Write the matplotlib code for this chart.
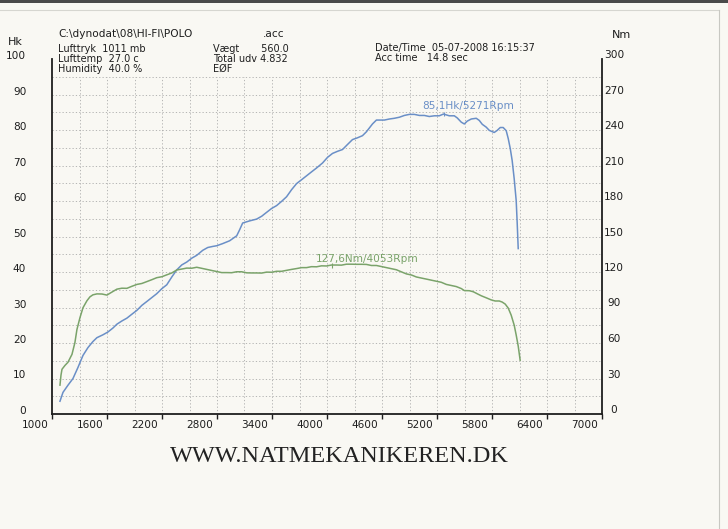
import matplotlib.pyplot as plt
from matplotlib.lines import Line2D
from matplotlib.patches import Rectangle
from matplotlib.transforms import ScaledTranslation

W, H = 728, 529

# effekt (Hk) aflæst fra kurven
rpm_hk = [1087, 1120, 1174, 1229, 1283, 1338, 1392, 1446, 1490, 1555,
          1610, 1664, 1708, 1762, 1817, 1871, 1926, 1980, 2035, 2089,
          2143, 2198, 2252, 2307, 2361, 2416, 2470, 2525, 2579, 2644,
          2699, 2753, 2797, 2862, 2938, 3015, 3047, 3080, 3156, 3232,
          3287, 3341, 3396, 3450, 3505, 3559, 3614, 3668, 3723, 3777,
          3831, 3886, 3951, 4006, 4060, 4115, 4169, 4223, 4278, 4332,
          4387, 4430, 4463, 4496, 4539, 4572, 4626, 4681, 4735, 4790,
          4844, 4899, 4953, 5008, 5062, 5116, 5171, 5225, 5271, 5334,
          5389, 5421, 5465, 5498, 5530, 5574, 5628, 5661, 5694, 5737,
          5770, 5824, 5857, 5890, 5922, 5955, 5977, 5999, 6020, 6042,
          6064, 6075, 6086]
hk = [3.6, 6.1, 8.1, 10.0, 13.1, 16.5, 18.7, 20.4, 21.5, 22.3,
      23.1, 24.2, 25.3, 26.2, 27.0, 28.1, 29.2, 30.6, 31.7, 32.8,
      33.9, 35.3, 36.4, 38.6, 40.6, 42.0, 42.8, 43.9, 44.7, 46.1,
      46.9, 47.2, 47.4, 48.0, 48.8, 50.2, 51.9, 53.8, 54.4, 54.9,
      55.7, 56.8, 57.9, 58.7, 59.9, 61.2, 63.2, 64.9, 66.0, 67.1,
      68.2, 69.3, 70.7, 72.3, 73.4, 74.0, 74.5, 75.9, 77.3, 77.8,
      78.4, 79.5, 80.6, 81.7, 82.8, 82.8, 82.8, 83.1, 83.3, 83.6,
      84.1, 84.4, 84.4, 84.1, 84.1, 83.8, 84.0, 84.0, 84.5, 84.0,
      84.0, 83.4, 82.2, 81.7, 82.5, 83.1, 83.3, 82.7, 81.6, 80.8,
      79.9, 79.3, 79.9, 80.7, 80.7, 79.8, 77.6, 74.8, 71.4, 66.3,
      60.1, 53.7, 46.6]

# moment (Nm)
rpm_nm = [1087, 1098, 1109, 1142, 1174, 1218, 1250, 1272, 1305, 1338,
          1381, 1414, 1446, 1490, 1545, 1599, 1653, 1708, 1762, 1817,
          1871, 1926, 1980, 2035, 2089, 2143, 2198, 2252, 2307, 2361,
          2416, 2470, 2525, 2579, 2634, 2688, 2742, 2797, 2851, 2906,
          2960, 3015, 3069, 3124, 3178, 3232, 3287, 3341, 3396, 3450,
          3505, 3559, 3614, 3668, 3723, 3777, 3831, 3886, 3940, 3995,
          4049, 4104, 4158, 4213, 4267, 4321, 4376, 4430, 4485, 4539,
          4594, 4648, 4703, 4757, 4812, 4866, 4920, 4975, 5029, 5084,
          5138, 5193, 5247, 5302, 5356, 5410, 5465, 5498, 5552, 5596,
          5639, 5683, 5737, 5792, 5835, 5879, 5911, 5944, 5977, 6009,
          6042, 6064, 6086, 6107]
nm = [24.4, 32.8, 37.8, 41.1, 43.7, 50.4, 60.4, 71.4, 81.4, 89.8,
      95.7, 99.0, 100.7, 101.5, 101.4, 100.5, 103.0, 105.5, 106.3, 106.2,
      107.9, 109.5, 110.3, 111.9, 113.5, 115.2, 116.0, 117.6, 119.2, 121.7,
      122.5, 123.3, 123.2, 124.0, 123.1, 122.2, 121.3, 120.4, 119.5, 119.5,
      119.4, 120.2, 120.2, 119.3, 119.2, 119.2, 119.1, 119.9, 119.8, 120.6,
      120.6, 121.4, 122.2, 122.9, 123.7, 123.7, 124.5, 124.4, 125.2, 125.1,
      125.9, 125.9, 125.8, 126.6, 126.6, 126.5, 126.5, 126.4, 125.5, 125.5,
      124.6, 123.7, 122.8, 121.9, 120.1, 118.4, 117.5, 115.8, 114.9, 114.0,
      113.1, 112.2, 111.3, 109.5, 108.6, 107.7, 106.0, 104.3, 104.2, 103.3,
      101.6, 99.9, 98.2, 96.4, 95.5, 95.5, 94.6, 92.9, 89.5, 83.6,
      75.1, 66.7, 57.4, 45.5]

peak_hk_rpm, peak_hk = 5271, 85.1
peak_nm_rpm, peak_nm = 4053, 127.6

x_ticks = list(range(1000, 7001, 600))
hk_ticks = list(range(0, 101, 10))
nm_ticks = list(range(0, 301, 30))

paper = '#f9f8f3'
blue = '#6a8fc7'
green = '#7aa36a'
ink = '#1e1e1e'
FS = 7.6
HFS = 7.0


def fpos(x, y):
    return x / W, 1 - y / H


fig = plt.figure(figsize=(W / 100, H / 100), dpi=100, facecolor=paper)
ax = fig.add_axes([52 / W, 1 - 414 / H, 550 / W, 355 / H])
ax.set_facecolor('none')
ax.set_xlim(1000, 7000)
ax.set_ylim(0, 100)
ax2 = ax.twinx()
ax2.set_ylim(0, 300)

# prikket gitter, 300 rpm / 5 Hk
grid_kw = dict(colors='#ababab', linewidth=0.6, linestyles=(0, (1.5, 2.5)), zorder=0)
ax.hlines(range(5, 96, 5), 1000, 7000, **grid_kw)
ax.vlines(range(1300, 6701, 300), 0, 95, **grid_kw)

for s in ['top', 'right']:
    ax.spines[s].set_visible(False)
for s in ['top', 'left', 'bottom']:
    ax2.spines[s].set_visible(False)
for sp in [ax.spines['left'], ax.spines['bottom'], ax2.spines['right']]:
    sp.set_color(ink)
    sp.set_linewidth(1.3)

ax.plot(rpm_hk, hk, color=blue, lw=1.1, zorder=3)
ax2.plot(rpm_nm, nm, color=green, lw=1.1, zorder=3)

ax.vlines(peak_hk_rpm, peak_hk - 1.2, peak_hk, color=blue, lw=0.8)
ax2.vlines(peak_nm_rpm, peak_nm - 4, peak_nm, color=green, lw=0.8)
ax.annotate('85,1Hk/5271Rpm', (peak_hk_rpm, peak_hk), xytext=(-21, 6),
            textcoords='offset pixels', ha='left', va='center',
            color=blue, fontsize=FS)
ax2.annotate('127,6Nm/4053Rpm', (peak_nm_rpm, peak_nm), xytext=(-16, 4),
             textcoords='offset pixels', ha='left', va='center',
             color=green, fontsize=FS)

ax.set_xticks(x_ticks)
ax.set_xticklabels([str(v) for v in x_ticks])
ax.set_yticks(hk_ticks)
ax.set_yticklabels([str(v) for v in hk_ticks])
ax2.set_yticks(nm_ticks)
ax2.set_yticklabels([str(v) for v in nm_ticks])

ax.tick_params(axis='x', direction='out', length=3.6, width=1.0, color=ink,
               pad=0.8, labelsize=FS, labelcolor=ink)
ax.tick_params(axis='y', length=0, pad=18.5, labelsize=FS, labelcolor=ink)
ax2.tick_params(axis='y', length=0, pad=8.6, labelsize=FS, labelcolor=ink)

dx = ScaledTranslation(-17 / 100, 0, fig.dpi_scale_trans)
for lab in ax.get_xticklabels():
    lab.set_transform(lab.get_transform() + dx)
up4 = ScaledTranslation(0, 4 / 100, fig.dpi_scale_trans)
for lab in ax.get_yticklabels():
    lab.set_transform(lab.get_transform() + up4)
up5 = ScaledTranslation(0, 5 / 100, fig.dpi_scale_trans)
for lab in ax2.get_yticklabels():
    lab.set_transform(lab.get_transform() + up5)
    lab.set_ha('center')

# akse-enheder
fig.text(*fpos(8, 42), 'Hk', fontsize=8, color=ink, va='center')
fig.text(*fpos(612, 35), 'Nm', fontsize=8, color=ink, va='center')

# hoved-tekst
hdr = dict(fontsize=HFS, color=ink, va='top', ha='left')
fig.text(*fpos(58, 29), 'C:\\dynodat\\08\\HI-FI\\POLO', fontsize=7.6,
         color=ink, va='top', ha='left')
fig.text(*fpos(263, 29), '.acc', fontsize=7.6, color=ink, va='top', ha='left')
fig.text(*fpos(58, 44), 'Lufttryk  1011 mb', **hdr)
fig.text(*fpos(58, 54), 'Lufttemp  27.0 c', **hdr)
fig.text(*fpos(58, 64), 'Humidity  40.0 %', **hdr)
fig.text(*fpos(213, 44), 'Vægt       560.0', **hdr)
fig.text(*fpos(213, 54), 'Total udv 4.832', **hdr)
fig.text(*fpos(213, 64), 'EØF', **hdr)
fig.text(*fpos(375, 43), 'Date/Time  05-07-2008 16:15:37', **hdr)
fig.text(*fpos(375, 53), 'Acc time   14.8 sec', **hdr)

fig.text(*fpos(339, 456), 'WWW.NATMEKANIKEREN.DK', family='Liberation Serif',
         fontsize=17.5, color='#222222', ha='center', va='center')

# kanter fra scanningen
fig.add_artist(Rectangle((0, 1 - 3 / H), 1, 3 / H, transform=fig.transFigure,
                         facecolor='#4a4a4a', edgecolor='none'))
fig.add_artist(Line2D([0, 719 / W], [1 - 10 / H, 1 - 10 / H],
                      transform=fig.transFigure, color='#d6d6d0', lw=0.8))
fig.add_artist(Line2D([719 / W, 719 / W], [0, 1 - 10 / H],
                      transform=fig.transFigure, color='#c8c8c2', lw=0.8))

fig.savefig('out.png', dpi=100, facecolor=paper)
